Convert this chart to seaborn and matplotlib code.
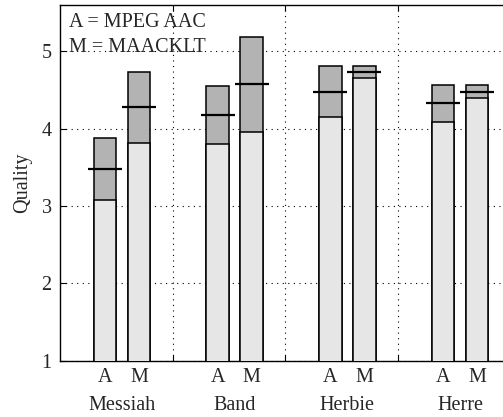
import numpy as np
import pandas as pd
import matplotlib
matplotlib.use("Agg")
import matplotlib.pyplot as plt
import matplotlib.transforms as mtransforms
import seaborn as sns

# Listening-test results per excerpt: A = MPEG AAC, M = MAACKLT
excerpts = ["Messiah", "Band", "Herbie", "Herre"]
codecs = ["A", "M"]
high = [3.88, 4.74, 4.55, 5.19, 4.81, 4.81, 4.56, 4.56]
low = [3.08, 3.81, 3.80, 3.96, 4.15, 4.65, 4.09, 4.40]
mean = [3.48, 4.28, 4.18, 4.58, 4.48, 4.73, 4.33, 4.48]

FS = 14.5
sns.set_theme(style="white")
plt.rcParams["font.family"] = ["Liberation Serif", "DejaVu Serif"]
plt.rcParams["font.size"] = FS

# bar centres: each excerpt occupies one unit, codecs offset inside it
group_centre = 0.55
offset = 0.151
xpos = []
for g in range(len(excerpts)):
    for k in range(len(codecs)):
        xpos.append(g + group_centre + (k - 0.5) * 2 * offset)

df = pd.DataFrame({
    "x": xpos,
    "high": high,
    "low": low,
    "mean": mean,
    "codec": codecs * len(excerpts),
})

fig = plt.figure(figsize=(5.03, 4.17), dpi=100)
ax = fig.add_axes([60 / 503, 56.3 / 417, 450.8 / 503, 355.7 / 417])

bar_w = 0.667
sns.barplot(data=df, x="x", y="high", native_scale=True, width=bar_w,
            color="#b3b3b3", saturation=1, edgecolor="black", linewidth=1.1,
            ax=ax, zorder=2)
sns.barplot(data=df, x="x", y="low", native_scale=True, width=bar_w,
            color="#e6e6e6", saturation=1, edgecolor="black", linewidth=1.1,
            ax=ax, zorder=3)
ax.hlines(df["mean"], df["x"] - 0.15, df["x"] + 0.15, colors="black",
          linewidth=1.6, zorder=4)

ax.set_xlim(0, 4)
ax.set_ylim(1, 5.6)
ax.set_yticks([1, 2, 3, 4, 5])
ax.set_xticks([1, 2, 3])
ax.set_xticklabels([])
ax.set_xlabel("")
ax.set_ylabel("Quality", fontsize=FS, labelpad=7)
ax.grid(True, linestyle=(0, (1, 4)), color="black", linewidth=0.8)
ax.set_axisbelow(True)
for s in ax.spines.values():
    s.set_color("black")
    s.set_linewidth(1.0)
ax.tick_params(direction="in", length=4, width=0.8, color="black",
               top=True, right=True, bottom=True, left=True,
               labelsize=FS, pad=6)

# codec letters and excerpt names below the axis
trans = mtransforms.blended_transform_factory(ax.transData, fig.transFigure)
for x, c in zip(df["x"], df["codec"]):
    ax.text(x, 1 - 381.7 / 417, c, transform=trans, ha="center",
            va="baseline", fontsize=FS)
for g, name in enumerate(excerpts):
    ax.text(g + group_centre, 1 - 410 / 417, name, transform=trans,
            ha="center", va="baseline", fontsize=FS)

ax.text(69 / 503, 1 - 26.7 / 417, "A = MPEG AAC", transform=fig.transFigure,
        ha="left", va="baseline", fontsize=FS)
ax.text(69 / 503, 1 - 51.7 / 417, "M = MAACKLT", transform=fig.transFigure,
        ha="left", va="baseline", fontsize=FS)

fig.savefig("out.png", dpi=100)
